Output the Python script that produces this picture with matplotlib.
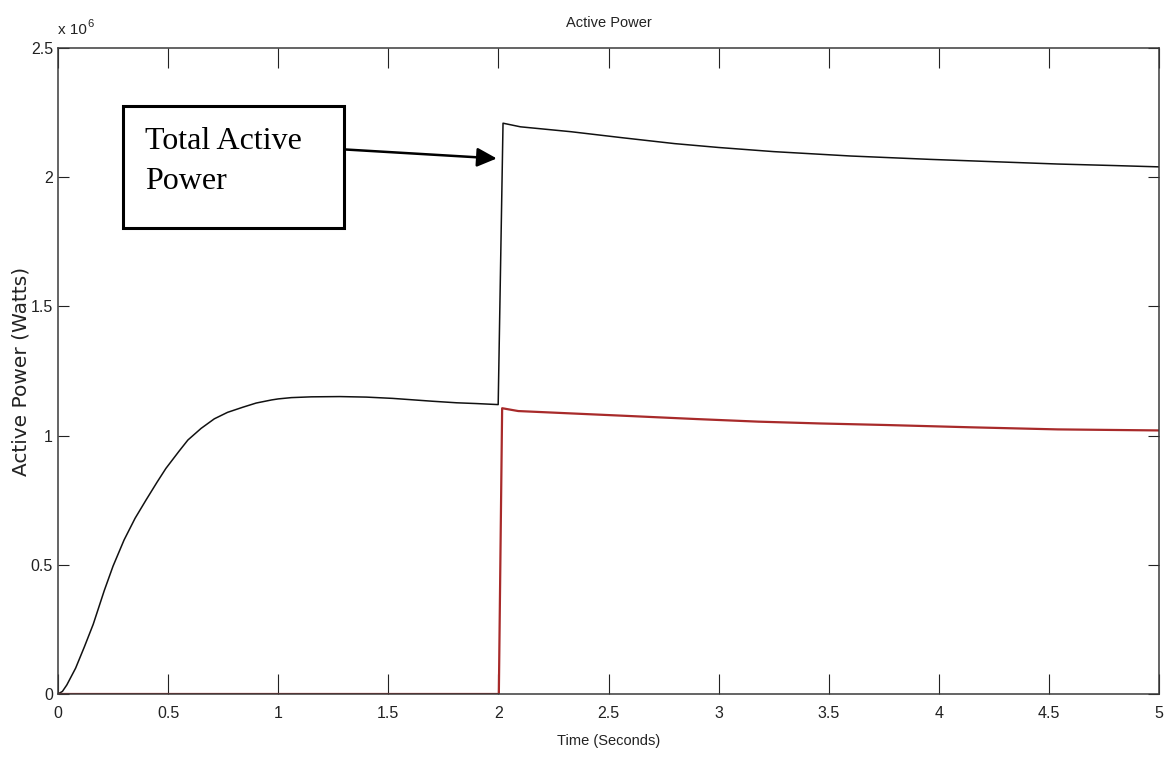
import matplotlib
matplotlib.use("Agg")
import matplotlib.pyplot as plt
from matplotlib.patches import Rectangle
from matplotlib.ticker import FuncFormatter
from matplotlib import font_manager

# ---- data (values in units of 1e6 W) ----
t_total = [0.0, 0.02, 0.04, 0.08, 0.12, 0.16, 0.21, 0.25, 0.30, 0.35, 0.40, 0.45,
           0.49, 0.55, 0.59, 0.65, 0.71, 0.77, 0.84, 0.90, 0.97, 1.0, 1.06, 1.15,
           1.28, 1.40, 1.52, 1.70, 1.81, 1.90, 1.999,
           2.021, 2.10, 2.33, 2.56, 2.80, 3.0, 3.25, 3.60, 3.96, 4.25, 4.54,
           4.80, 5.0]
p_total = [0.0, 0.01, 0.035, 0.10, 0.183, 0.27, 0.40, 0.495, 0.596, 0.68, 0.751,
           0.82, 0.873, 0.94, 0.983, 1.028, 1.065, 1.09, 1.110, 1.126, 1.138,
           1.142, 1.147, 1.150, 1.151, 1.149, 1.144, 1.133, 1.127, 1.124, 1.120,
           2.209, 2.195, 2.176, 2.153, 2.130, 2.115, 2.099, 2.082, 2.069, 2.060,
           2.051, 2.045, 2.040]
t_part = [0.0, 2.002, 2.017, 2.09, 2.30, 2.59, 2.90, 3.18, 3.46, 3.76, 4.15,
          4.54, 5.0]
p_part = [0.0, 0.0, 1.106, 1.095, 1.087, 1.076, 1.064, 1.054, 1.047, 1.041,
          1.032, 1.024, 1.020]
scale = 1e6

x_ticks = [0, 0.5, 1, 1.5, 2, 2.5, 3, 3.5, 4, 4.5, 5]
y_ticks = [0, 0.5, 1, 1.5, 2, 2.5]

title = "Active Power"
xlabel = "Time (Seconds)"
ylabel = "Active Power (Watts)"
note = "Total Active\nPower"

names = {f.name for f in font_manager.fontManager.ttflist}
narrow = "Liberation Sans Narrow" if "Liberation Sans Narrow" in names else "Liberation Sans"
nfam = [narrow, "DejaVu Sans"]

fig = plt.figure(figsize=(11.71, 7.63), dpi=100)
ax = fig.add_axes([58/1171, 1-694/763, 1101/1171, 646/763])

ax.plot(t_total, [v*scale for v in p_total], color="#111111", lw=1.1)
ax.plot(t_part, [v*scale for v in p_part], color="#a82a2a", lw=1.6)

ax.set_xlim(0, 5)
ax.set_ylim(0, 2.5*scale)
ax.set_xticks(x_ticks)
ax.set_yticks([v*scale for v in y_ticks])
ax.xaxis.set_major_formatter(FuncFormatter(lambda v, p: f"{v:g}"))
ax.yaxis.set_major_formatter(FuncFormatter(lambda v, p: f"{v/scale:g}"))

for s in ax.spines.values():
    s.set_linewidth(1.1)
    s.set_color("#3a3a3a")
ax.tick_params(axis="x", direction="in", length=14.4, width=0.8, top=True,
               pad=9, colors="#222222", labelsize=11.5)
ax.tick_params(axis="y", direction="in", length=8, width=0.8, right=True,
               pad=3.6, colors="#222222", labelsize=11.5)
for lab in ax.get_xticklabels() + ax.get_yticklabels():
    lab.set_family(nfam)

ax.set_title(title, fontsize=10.5, family=nfam, pad=15, color="#222222")
ax.set_xlabel(xlabel, fontsize=10.5, family=nfam, color="#222222")
ax.xaxis.set_label_coords(0.5, -0.062)
ax.xaxis.label.set_va("top")
ax.set_ylabel(ylabel, fontsize=14.5, family=["DejaVu Sans"], color="#222222")
ax.yaxis.set_label_coords(-0.025, 0.5)

t1 = ax.text(0.0, 1.017, "x 10", transform=ax.transAxes, ha="left", va="bottom",
             fontsize=11, family=nfam, color="#222222")
ax.annotate("6", xy=(1.0, 0.95), xycoords=t1, ha="left", va="center",
            fontsize=8, family=nfam, color="#222222")

# annotation box
ax.add_patch(Rectangle((0.0593, 0.722), 0.2009, 0.1889, transform=ax.transAxes,
                       fill=False, lw=2.2, edgecolor="black", zorder=5))
ax.text(0.079, 0.877, note, transform=ax.transAxes, ha="left", va="top",
        fontsize=23, family=["Liberation Serif", "DejaVu Serif"], linespacing=1.5,
        zorder=6)
ax.annotate("", xy=(0.3985, 0.829), xytext=(0.260, 0.843),
            xycoords="axes fraction", textcoords="axes fraction",
            arrowprops=dict(arrowstyle="-|>,head_length=0.6,head_width=0.29",
                            mutation_scale=20, lw=1.8, color="black",
                            shrinkA=0, shrinkB=0))

fig.savefig("out.png", dpi=100)
